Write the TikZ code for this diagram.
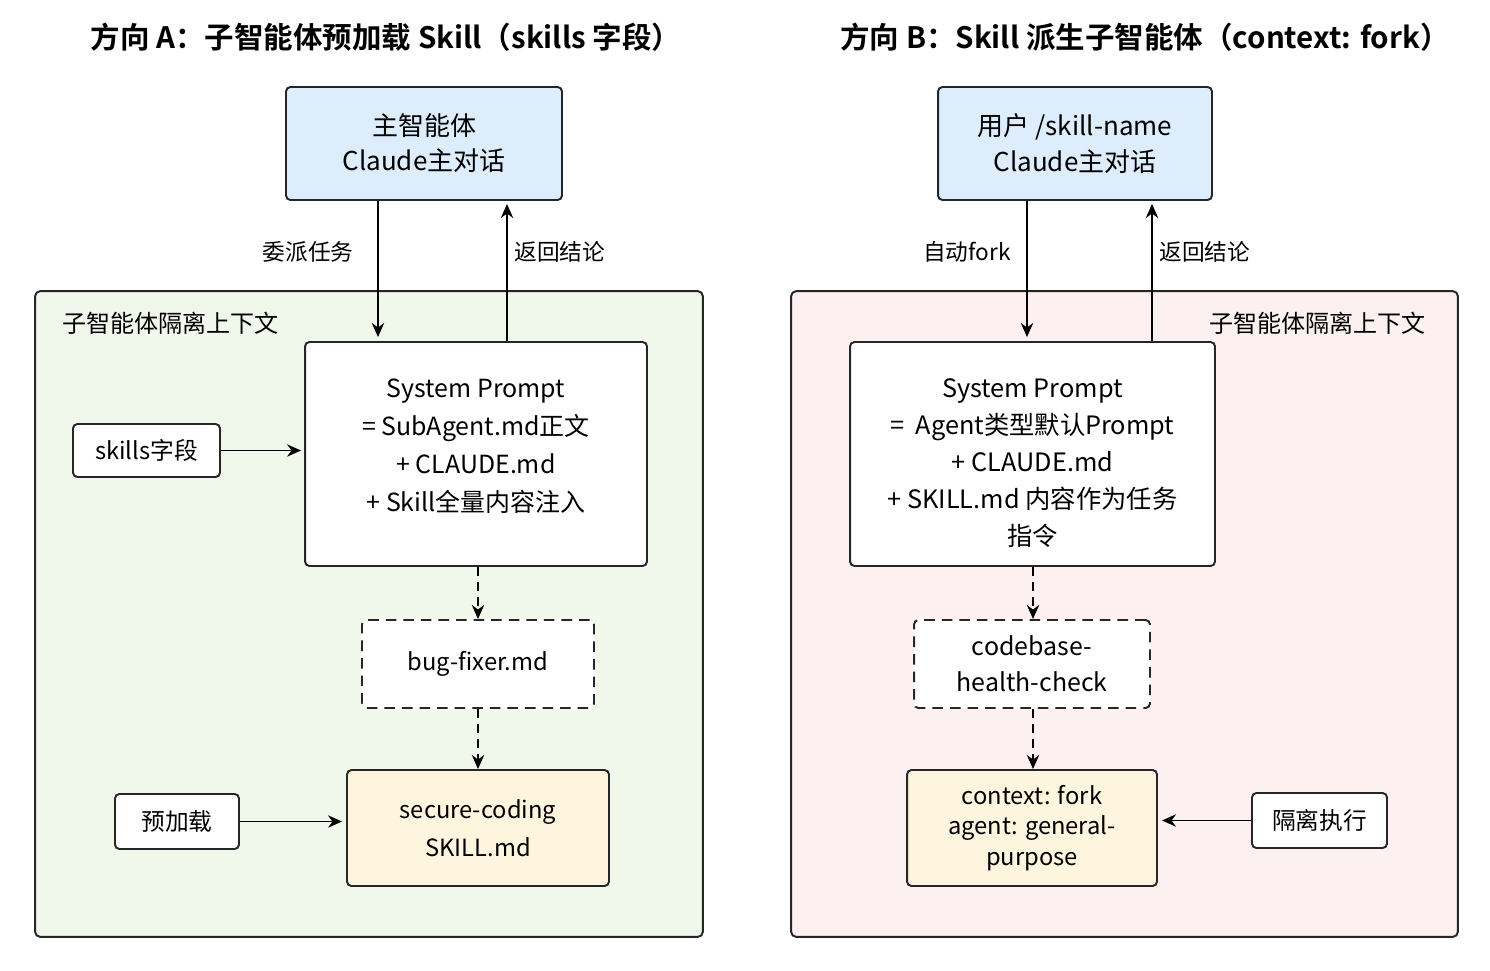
\documentclass[tikz,border=0pt]{standalone}
\usepackage{fontspec}
\setmainfont{Noto Sans CJK SC}[BoldFont={Noto Sans CJK SC Bold}]
\usetikzlibrary{arrows.meta,calc}
\definecolor{pgreen}{RGB}{240,247,235}
\definecolor{ppink}{RGB}{252,240,240}
\definecolor{pblue}{RGB}{221,237,251}
\definecolor{pyellow}{RGB}{253,245,222}
\tikzset{
  box/.style={draw=black!85, line width=1.1pt, rounded corners=2.5pt, align=center, inner sep=2pt,
    font=\fontsize{13.5}{21.5}\selectfont},
  dbox/.style={box, dashed, dash pattern=on 6pt off 4pt, fill=white},
  panel/.style={draw=black!85, line width=1.1pt, rounded corners=3pt},
  arr/.style={line width=1.1pt, -{Stealth[length=8pt,width=7pt]}},
  darr/.style={arr, dash pattern=on 5pt off 3.5pt},
  lab/.style={font=\fontsize{12.9}{15}\selectfont, inner sep=0pt},
  ttl/.style={font=\fontsize{16.8}{20}\selectfont\bfseries, inner sep=0pt},
}
\begin{document}
\begin{tikzpicture}[x=0.02cm,y=-0.02cm]
\useasboundingbox[fill=white] (0,0) rectangle (1490,970);
% titles
\node[ttl] (tA) at (386,37) {方向 A：子智能体预加载 Skill（skills 字段）};
\node[ttl] (tB) at (1145,37) {方向 B：Skill 派生子智能体（context: fork）};
% panels
\node[panel, fill=pgreen, minimum width=13.36cm, minimum height=12.92cm] (panA) at (369,614) {};
\node[panel, fill=ppink, minimum width=13.34cm, minimum height=12.92cm] (panB) at (1124.5,614) {};
\node[lab, font=\fontsize{13.7}{16}\selectfont, anchor=west] (plA) at (62,323) {子智能体隔离上下文};
\node[lab, font=\fontsize{13.7}{16}\selectfont, anchor=east] (plB) at (1426,323) {子智能体隔离上下文};
% main boxes
\node[box, fill=pblue, minimum width=5.52cm, minimum height=2.26cm, font=\fontsize{14.8}{20}\selectfont] (mA) at (424,143.5) {主智能体\\Claude主对话};
\node[box, fill=pblue, minimum width=5.48cm, minimum height=2.26cm, font=\fontsize{14.8}{20}\selectfont] (mB) at (1075,143.5) {用户 /skill-name\\Claude主对话};
% system prompt boxes
\node[box, fill=white, minimum width=6.84cm, minimum height=4.48cm, font=\fontsize{14.2}{21.6}\selectfont] (sA) at (476,454)
  {System Prompt\\= SubAgent.md正文\\+ CLAUDE.md\\+ Skill全量内容注入\rule[-10pt]{0pt}{0pt}};
\node[box, fill=white, minimum width=7.3cm, minimum height=4.48cm, font=\fontsize{14.4}{21}\selectfont] (sB) at (1032.5,454)
  {\rule{0pt}{21pt}System Prompt\\=\ \ Agent类型默认Prompt\\+ CLAUDE.md\\+ SKILL.md 内容作为任务\\指令};
% side boxes
\node[box, fill=white, minimum width=2.94cm, minimum height=1.06cm] (sk) at (146.5,450.5) {skills字段};
\node[box, fill=white, minimum width=2.48cm, minimum height=1.1cm] (pl) at (177,821.5) {预加载};
\node[box, fill=white, minimum width=2.7cm, minimum height=1.1cm] (iso) at (1319.5,820.5) {隔离执行};
% dashed boxes
\node[dbox, minimum width=4.64cm, minimum height=1.76cm] (bug) at (478,664) {bug-fixer.md};
\node[dbox, minimum width=4.72cm, minimum height=1.76cm, font=\fontsize{14.2}{20.4}\selectfont] (cb) at (1032,664) {codebase-\\health-check};
% yellow boxes
\node[box, fill=pyellow, minimum width=5.24cm, minimum height=2.32cm] (sec) at (478,828) {secure-coding\\SKILL.md};
\node[box, fill=pyellow, minimum width=5.0cm, minimum height=2.32cm, font=\fontsize{13.5}{17.5}\selectfont] (ctx) at (1032,828) {context: fork\\agent: general-\\purpose};
% coordinates for vertical arrows
\coordinate (xa1) at (378,0);
\coordinate (xa2) at (507,0);
\coordinate (xb1) at (1027,0);
\coordinate (xb2) at (1152,0);
\draw[arr, shorten >=0.08cm] (mA.south -| xa1) -- (sA.north -| xa1);
\draw[arr, shorten >=0.06cm] (sA.north -| xa2) -- (mA.south -| xa2);
\draw[arr, shorten >=0.08cm] (mB.south -| xb1) -- (sB.north -| xb1);
\draw[arr, shorten >=0.06cm] (sB.north -| xb2) -- (mB.south -| xb2);
\node[lab, anchor=east] (l1) at (354,252) {委派任务};
\node[lab, anchor=west] (l2) at (514,252) {返回结论};
\node[lab, anchor=east] (l3) at (1011,252) {自动fork};
\node[lab, anchor=west] (l4) at (1159,252) {返回结论};
% side arrows
\draw[arr, shorten >=0.06cm] (sk.east) -- (sk.east -| sA.west);
\draw[arr, shorten >=0.08cm] (pl.east) -- (pl.east -| sec.west);
\draw[arr, shorten >=0.08cm] (iso.west) -- (iso.west -| ctx.east);
% dashed arrows
\draw[darr] (sA.south -| bug.north) -- (bug.north);
\draw[darr] (bug.south) -- (sec.north);
\coordinate (xc) at (1033,0);
\draw[darr] (sB.south -| xc) -- (cb.north -| xc);
\draw[darr] (cb.south -| xc) -- (ctx.north -| xc);
\end{tikzpicture}
\end{document}
